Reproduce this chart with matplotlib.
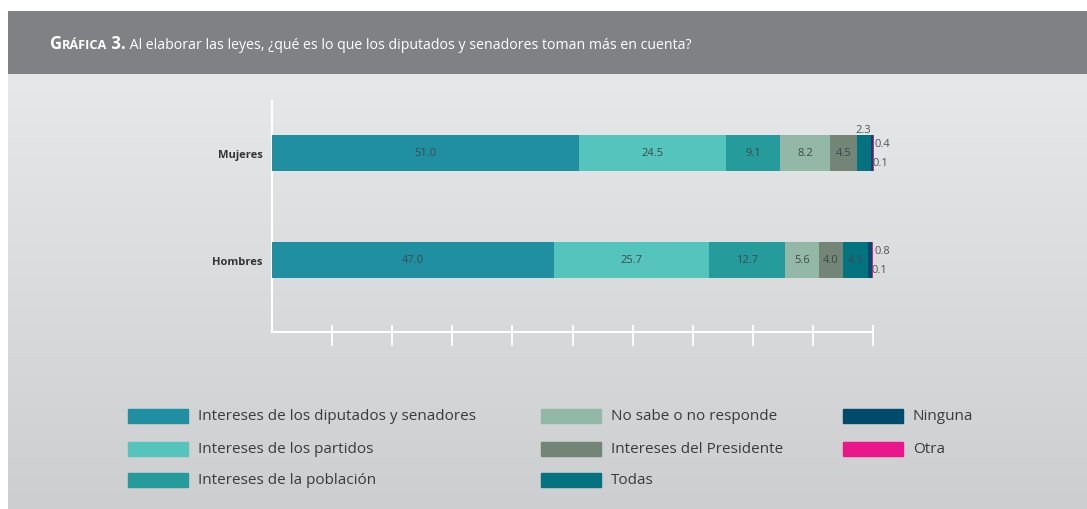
import numpy as np
import matplotlib
matplotlib.use("Agg")
import matplotlib.pyplot as plt
from matplotlib.patches import Rectangle
from matplotlib.colors import LinearSegmentedColormap
from matplotlib.ticker import FixedLocator

groups = ["Hombres", "Mujeres"]
categories = ["Intereses de los diputados y senadores", "Intereses de los partidos",
              "Intereses de la población", "No sabe o no responde",
              "Intereses del Presidente", "Todas", "Ninguna", "Otra"]
hombres = [47.0, 25.7, 12.7, 5.6, 4.0, 4.1, 0.8, 0.1]
mujeres = [51.0, 24.5, 9.1, 8.2, 4.5, 2.3, 0.4, 0.1]
colors = ["#1f8fa1", "#55c4bc", "#259b9b", "#94b8a8", "#738577", "#04737f", "#004b6b", "#ec168c"]

title = "Al elaborar las leyes, ¿qué es lo que los diputados y senadores toman más en cuenta?"

values = np.array([hombres, mujeres])
plt.rcParams["font.family"] = ["Open Sans", "DejaVu Sans"]

W, H = 1087, 510
fig = plt.figure(figsize=(W / 100, H / 100), dpi=100)
fig.patch.set_facecolor("white")

# light gradient background
bg = fig.add_axes([8 / W, 0, 1 - 8 / W, (H - 75) / H])
bg.imshow(np.linspace(0, 1, 256)[:, None], aspect="auto", origin="lower",
          cmap=LinearSegmentedColormap.from_list("bg", ["#cdced0", "#e7e8ea"]),
          extent=[0, 1, 0, 1])
bg.axis("off")

# header band
hd = fig.add_axes([8 / W, (H - 75) / H, 1 - 8 / W, 63 / H])
hd.set_facecolor("#808184")
hd.set_xticks([])
hd.set_yticks([])
for s in hd.spines.values():
    s.set_visible(False)

renderer = fig.canvas.get_renderer()
x = 50 / W
yb = (H - 49) / H
pieces = [("G", 12, "bold"), ("RÁFICA", 9.2, "bold"), (" 3.", 12, "bold"), (" " + title, 10.2, "normal")]
for s, size, weight in pieces:
    t = fig.text(x, yb, s, color="white", fontsize=size, fontweight=weight, va="baseline", ha="left")
    x = t.get_window_extent(renderer).x1 / W

# main chart
ax = fig.add_axes([272 / W, (H - 333) / H, 601 / W, 231 / H])
ax.set_facecolor("none")
ypos = np.arange(len(groups))
left = np.zeros(len(groups))
for i, cat in enumerate(categories):
    ax.barh(ypos, values[:, i], left=left, height=0.336, color=colors[i],
            linewidth=0, clip_on=False, zorder=3)
    for j in range(len(groups)):
        v = values[j, i]
        cx = left[j] + v / 2
        if v >= 3:
            ax.text(cx, ypos[j], f"{v:.1f}", ha="center", va="center", fontsize=8, color="#3e4a4a", zorder=4)
        elif i == len(categories) - 2:
            ax.text(left[j] + v + 0.3, ypos[j] + 0.085, f"{v:.1f}", ha="left", va="center", fontsize=8, color="#555555")
        elif i == len(categories) - 1:
            ax.text(left[j] - 0.1, ypos[j] - 0.09, f"{v:.1f}", ha="left", va="center", fontsize=8, color="#555555")
        else:
            ax.text(cx, ypos[j] + 0.22, f"{v:.1f}", ha="center", va="center", fontsize=8, color="#555555")
    left += values[:, i]

ax.set_xlim(0, 100)
ax.set_ylim(-0.673, 1.486)
for side in ["top", "right"]:
    ax.spines[side].set_visible(False)
for side in ["left", "bottom"]:
    ax.spines[side].set_color("white")
    ax.spines[side].set_linewidth(1.5)
ticks = list(range(10, 101, 10))
ax.set_xticks(ticks)
ax.xaxis.set_minor_locator(FixedLocator(ticks))
ax.xaxis.remove_overlapping_locs = False
ax.tick_params(axis="x", which="major", direction="out", length=10, width=1.3, color="white", labelbottom=False)
ax.tick_params(axis="x", which="minor", direction="in", length=5, width=1.3, color="white")
ax.set_yticks(ypos, groups)
ax.tick_params(axis="y", length=0, pad=7)
for lab in ax.get_yticklabels():
    lab.set_fontweight("bold")
    lab.set_fontsize(8)
    lab.set_color("#333333")

# legend, three columns
col_x = [128, 541, 843]
row_y = [417, 450, 481]
for k, cat in enumerate(categories):
    c, r = divmod(k, 3)
    px, py = col_x[c], row_y[r]
    fig.patches.append(Rectangle((px / W, (H - py - 7) / H), 60 / W, 14 / H,
                                 transform=fig.transFigure, color=colors[k], zorder=5))
    fig.text((px + 70) / W, (H - py) / H, cat, fontsize=11, color="#3a3a3a", va="center", ha="left")

fig.savefig("out.png", dpi=100)
